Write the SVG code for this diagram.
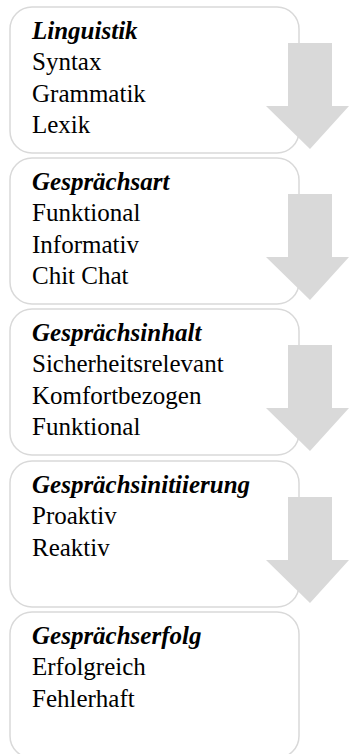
<svg xmlns="http://www.w3.org/2000/svg" width="349" height="754" viewBox="0 0 349 754">
  <defs>
    <style>
      .box { fill: #ffffff; stroke: #d9d9d9; stroke-width: 1.5; }
      .arrow { fill: #d9d9d9; stroke: none; }
      .t { font-family: 'Liberation Serif', Tinos, 'Times New Roman', 'DejaVu Serif', serif; font-size: 25px; fill: #000000; }
      .title { font-weight: bold; font-style: italic; }
    </style>
    <!-- block arrow, origin at the top of its box -->
    <path id="down" class="arrow" d="M288,36 H332 V99 H349 L310,142 L266,99 H288 Z"/>
  </defs>

  <g id="linguistik" transform="translate(0,7)">
    <rect class="box" x="10" y="0" width="289" height="146" rx="22"/>
    <text x="32" y="32" class="t title">Linguistik</text>
    <text x="32" y="63" class="t">Syntax</text>
    <text x="32" y="95" class="t">Grammatik</text>
    <text x="32" y="126" class="t">Lexik</text>
  </g>

  <g id="gespraechsart" transform="translate(0,158)">
    <rect class="box" x="10" y="0" width="289" height="146" rx="22"/>
    <text x="32" y="32" class="t title">Gesprächsart</text>
    <text x="32" y="63" class="t">Funktional</text>
    <text x="32" y="95" class="t">Informativ</text>
    <text x="32" y="126" class="t">Chit Chat</text>
  </g>

  <g id="gespraechsinhalt" transform="translate(0,309)">
    <rect class="box" x="10" y="0" width="289" height="146" rx="22"/>
    <text x="32" y="32" class="t title">Gesprächsinhalt</text>
    <text x="32" y="63" class="t">Sicherheitsrelevant</text>
    <text x="32" y="95" class="t">Komfortbezogen</text>
    <text x="32" y="126" class="t">Funktional</text>
  </g>

  <g id="gespraechsinitiierung" transform="translate(0,461)">
    <rect class="box" x="10" y="0" width="289" height="146" rx="22"/>
    <text x="32" y="32" class="t title">Gesprächsinitiierung</text>
    <text x="32" y="63" class="t">Proaktiv</text>
    <text x="32" y="95" class="t">Reaktiv</text>
  </g>

  <g id="gespraechserfolg" transform="translate(0,612)">
    <rect class="box" x="10" y="0" width="289" height="146" rx="22"/>
    <text x="32" y="32" class="t title">Gesprächserfolg</text>
    <text x="32" y="63" class="t">Erfolgreich</text>
    <text x="32" y="95" class="t">Fehlerhaft</text>
  </g>

  <g id="connectors">
    <use href="#down" transform="translate(0,7)"/>
    <use href="#down" transform="translate(0,158)"/>
    <use href="#down" transform="translate(0,309)"/>
    <use href="#down" transform="translate(0,461)"/>
  </g>
</svg>
